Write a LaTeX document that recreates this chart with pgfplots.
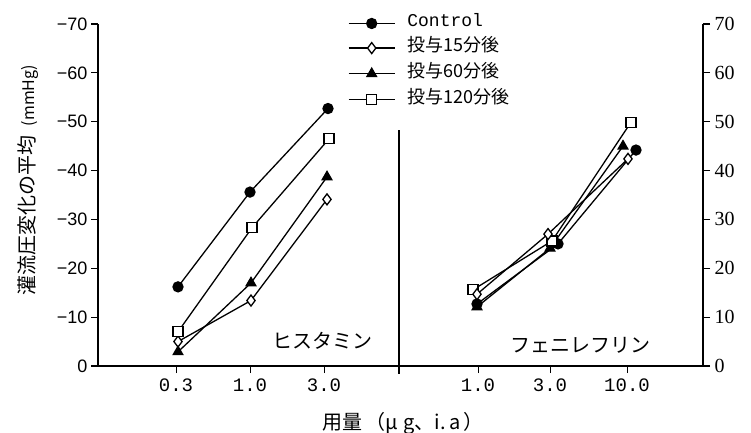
\documentclass[border=0pt]{standalone}
\usepackage{fontspec}
\usepackage{pgfplots}
\pgfplotsset{compat=1.18}
\newfontfamily\sansf{Liberation Sans}
\newfontfamily\seriff{Liberation Serif}
\newfontfamily\monof{Liberation Mono}
\newfontfamily\cjk{Noto Sans CJK JP}

\begin{document}
\begin{tikzpicture}
\path[use as bounding box] (0,0) rectangle (751pt,432pt);
\pgfplotsset{
  common/.style={
    at={(98pt,66pt)}, anchor=south west,
    scale only axis, width=605pt, height=342pt,
    xmin=98, xmax=703, ymin=0, ymax=70,
    clip=false,
    tick align=outside,
    major tick length=7pt,
    every tick/.style={black, line width=1.1pt},
    axis line style={line width=1.3pt},
  }
}
% right-hand scale (phenylephrine)
\begin{axis}[common,
  axis x line=none, axis y line*=right,
  ytick={0,10,...,70},
  yticklabel style={font=\seriff\fontsize{20}{20}\selectfont, xshift=1pt},
  /pgf/number format/assume math mode=true,
]
\end{axis}
% main axis
\begin{axis}[common,
  axis x line*=bottom, axis y line*=left,
  ytick={0,10,...,70},
  yticklabels={0,−10,−20,−30,−40,−50,−60,−70},
  yticklabel style={font=\sansf\fontsize{18}{18}\selectfont},
  xtick={176,250,324,399,478,550,627},
  xticklabels={0.3,1.0,3.0,,1.0,3.0,10.0},
  xticklabel style={font=\monof\fontsize{19}{19}\selectfont, yshift=-2pt},
  major x tick style={line width=1pt},
  every axis plot/.append style={black, line width=1.3pt},
  legend style={draw=none, fill=none,
    at={(axis description cs:0.413,1.038)}, anchor=north west,
    font=\fontsize{18}{18}\selectfont, row sep=5pt, column sep=10pt,
    inner sep=0pt},
  legend cell align=left,
  legend image code/.code={
    \draw[#1, mark repeat=2, mark phase=2, yshift=-3pt]
      plot coordinates {(0pt,0pt) (23pt,0pt) (46pt,0pt)};},
]
% histamine panel
\addplot[mark=*, mark size=5pt, mark options={fill=black}]
  coordinates {(178,16.2) (250,35.6) (328,52.7)};
\addlegendentry{\monof Control}
\addplot[mark=diamond*, mark size=5.5pt, mark options={fill=white}]
  coordinates {(178,5.0) (251,13.4) (327,34.1)};
\addlegendentry{\cjk 投与15分後}
\addplot[mark=triangle*, mark size=5.5pt, mark options={fill=black}]
  coordinates {(178,2.9) (251,17.0) (327,38.7)};
\addlegendentry{\cjk 投与60分後}
\addplot[mark=square*, mark size=5pt, mark options={fill=white}]
  coordinates {(178,7.0) (252,28.3) (329,46.5)};
\addlegendentry{\cjk 投与120分後}
% phenylephrine panel
\addplot[forget plot, mark=triangle*, mark size=5.5pt, mark options={fill=black}]
  coordinates {(477,12.1) (550,24.1) (623,45.0)};
\addplot[forget plot, mark=*, mark size=5pt, mark options={fill=black}]
  coordinates {(477,12.7) (558,25.0) (636,44.2)};
\addplot[forget plot, mark=square*, mark size=5pt, mark options={fill=white}]
  coordinates {(473,15.6) (552,25.6) (631,49.9)};
\addplot[forget plot, mark=diamond*, mark size=5.5pt, mark options={fill=white}]
  coordinates {(477,14.7) (548,27.0) (628,42.4)};
% divider between panels
\draw[line width=1.2pt] (axis cs:399,48.3) -- (axis cs:399,-1.6);
\node[font=\cjk\fontsize{20}{20}\selectfont] at (axis cs:322,5.1) {ヒスタミン};
\node[font=\cjk\fontsize{20}{20}\selectfont] at (axis cs:580,4.3) {フェニレフリン};
\node[rotate=90, font=\cjk\fontsize{20}{20}\selectfont]
  at (axis description cs:-0.1157,0.544) {灌流圧変化の平均\ \ {\fontsize{16}{16}\selectfont (mmHg)}};
\node[font=\cjk\fontsize{20}{20}\selectfont]
  at (axis description cs:0.504,-0.168) {用量\,（μ\;g、i.\,a\,）};
\end{axis}
\end{tikzpicture}
\end{document}
